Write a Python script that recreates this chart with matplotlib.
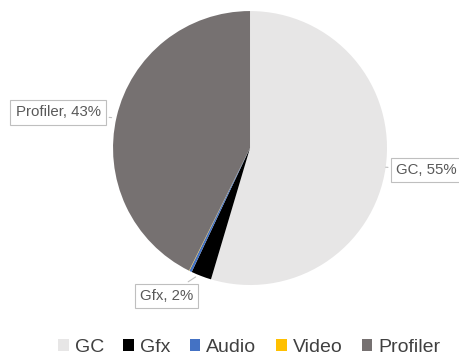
import matplotlib
matplotlib.use("Agg")
import matplotlib.pyplot as plt
from matplotlib.patches import Patch

labels = ["GC", "Gfx", "Audio", "Video", "Profiler"]
values = [54.6, 2.4, 0.3, 0.05, 42.65]
shown = {"GC": "55%", "Gfx": "2%", "Profiler": "43%"}
colors = ["#E7E6E6", "#000000", "#4472C4", "#FFC000", "#767171"]

plt.rcParams["font.family"] = ["Liberation Sans", "DejaVu Sans"]
text_color = "#595959"

fig = plt.figure(figsize=(4.59, 3.6), dpi=100)
ax = fig.add_axes([0.2462, 0.2083, 0.597, 0.761])
wedges, _ = ax.pie(values, colors=colors, startangle=90, counterclock=False,
                   radius=1.0, wedgeprops=dict(linewidth=0))
ax.set_xlim(-1, 1)
ax.set_ylim(-1, 1)
ax.set_aspect("equal")
ax.axis("off")

box = dict(boxstyle="square,pad=0.35", fc="white", ec="#BFBFBF", lw=0.8)
arrow = dict(arrowstyle="-", color="#BFBFBF", lw=0.8)
# label positions (axes data coords) and the point on the pie the callout points to
callouts = {
    "Profiler": ((-1.40, 0.26), (-0.99, 0.22)),
    "GC": ((1.29, -0.16), (0.99, -0.14)),
    "Gfx": ((-0.61, -1.08), (-0.38, -0.93)),
}
for name, (txt_xy, pt_xy) in callouts.items():
    ax.annotate(f"{name}, {shown[name]}", xy=pt_xy, xytext=txt_xy,
                ha="center", va="center", fontsize=10.8, color=text_color,
                bbox=box, arrowprops=arrow, annotation_clip=False)

handles = [Patch(facecolor=c, edgecolor="none") for c in colors]
fig.legend(handles, labels, loc="center", bbox_to_anchor=(0.543, 0.036),
           ncol=5, frameon=False, fontsize=14, handlelength=0.55,
           handleheight=0.55, handletextpad=0.3, columnspacing=1.0,
           labelcolor="#404040", borderpad=0)

fig.savefig("out.png", dpi=100)
